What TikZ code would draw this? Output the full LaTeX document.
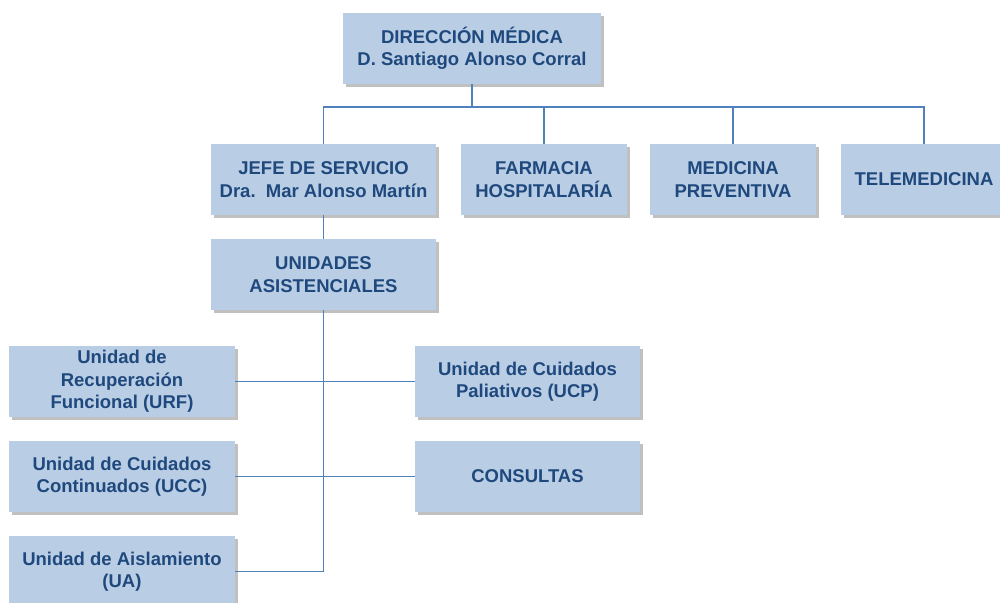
\documentclass[tikz,border=0pt]{standalone}
\usepackage{fontspec}
\setmainfont{Liberation Sans}
\usetikzlibrary{shadows}
\definecolor{boxfill}{HTML}{B9CDE5}
\definecolor{boxtext}{HTML}{1F497D}
\definecolor{linecol}{HTML}{4F81BD}
\tikzset{
  orgbox/.style={fill=boxfill, text=boxtext, font=\bfseries\fontsize{18.5}{22.5}\selectfont,
    align=center, inner sep=0pt, minimum height=71pt,
    drop shadow={shadow xshift=3pt, shadow yshift=-3pt, opacity=0.45, fill=black!55}},
  conn/.style={draw=linecol, line width=1.3pt}
}
\begin{document}
\begin{tikzpicture}[x=1pt,y=1pt]
\useasboundingbox (0,0) rectangle (1000,-602);
\clip (0,0) rectangle (1000,-602);
\node[orgbox, minimum width=258pt] (top) at (472,-48.5) {DIRECCIÓN MÉDICA\\D. Santiago Alonso Corral};
\node[orgbox, minimum width=225pt] (jefe) at (323.5,-179.5) {JEFE DE SERVICIO\\Dra.\ \ Mar Alonso Martín};
\node[orgbox, minimum width=166pt] (farm) at (544,-179.5) {FARMACIA\\HOSPITALARÍA};
\node[orgbox, minimum width=166pt] (medi) at (733,-179.5) {MEDICINA\\PREVENTIVA};
\node[orgbox, minimum width=166pt] (tele) at (924,-179.5) {TELEMEDICINA};
\node[orgbox, minimum width=225pt] (unid) at (323.5,-274.5) {UNIDADES\\ASISTENCIALES};
\node[orgbox, minimum width=226pt] (urf) at (122,-381.5) {Unidad de\\Recuperación\\Funcional (URF)};
\node[orgbox, minimum width=226pt] (ucc) at (122,-476.5) {Unidad de Cuidados\\Continuados (UCC)};
\node[orgbox, minimum width=226pt] (ua) at (122,-571.5) {Unidad de Aislamiento\\(UA)};
\node[orgbox, minimum width=225pt] (ucp) at (527.5,-381.5) {Unidad de Cuidados\\Paliativos (UCP)};
\node[orgbox, minimum width=225pt] (cons) at (527.5,-476.5) {CONSULTAS};
\coordinate (busL) at (jefe.north |- 0,-107);
\draw[conn] (top.south) -- (top.south |- busL);
\draw[conn] (jefe.north) -- (busL) -| (tele.north);
\draw[conn] (farm.north) -- (farm.north |- busL);
\draw[conn] (medi.north) -- (medi.north |- busL);
\draw[conn] (jefe.south) -- (unid.north);
\draw[conn] (unid.south) |- (ua.east);
\draw[conn] (urf.east) -- (ucp.west);
\draw[conn] (ucc.east) -- (cons.west);
\end{tikzpicture}
\end{document}
